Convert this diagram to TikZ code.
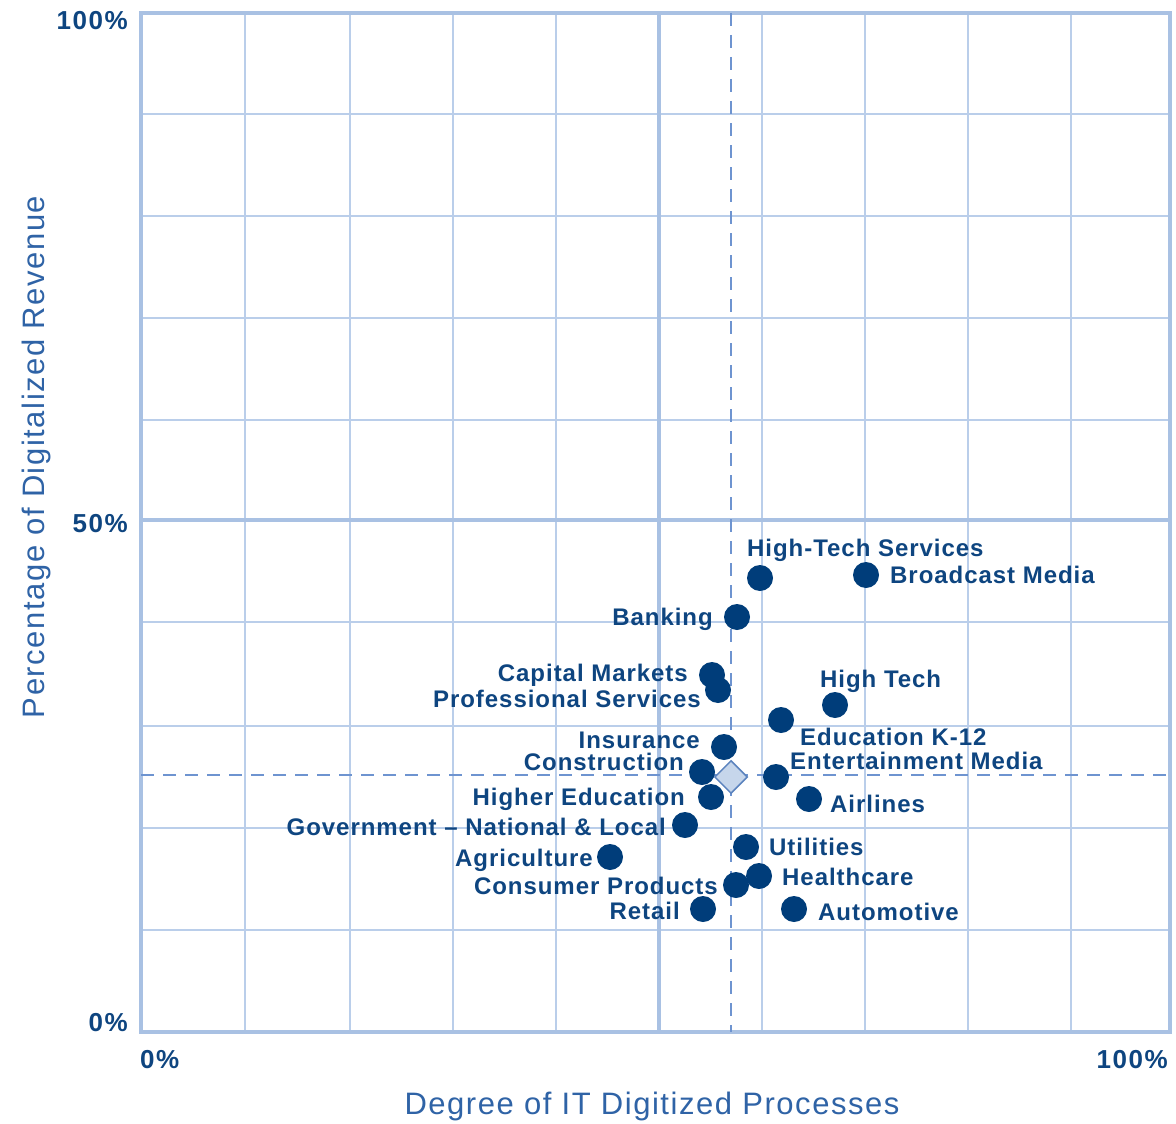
\documentclass[tikz,border=0pt]{standalone}
\usepackage{fontspec}
\setmainfont{Liberation Sans}
\newfontfamily\lblfont{Liberation Sans}[LetterSpace=4]
\newfontfamily\tickfont{Liberation Sans}[LetterSpace=6]
\newfontfamily\ttlfont{Liberation Sans}[LetterSpace=5]
\usetikzlibrary{shapes.geometric}
\definecolor{gridc}{HTML}{BACEEA}
\definecolor{framec}{HTML}{A9C1E3}
\definecolor{dashc}{HTML}{6E94D0}
\definecolor{dotc}{HTML}{003D7A}
\definecolor{txtc}{HTML}{0E4580}
\definecolor{ttlc}{HTML}{2F63A6}
\definecolor{diafill}{HTML}{C6D6EB}
\definecolor{diadraw}{HTML}{5B83BE}
\tikzset{
  dot/.style={circle,fill=dotc,minimum size=26pt,inner sep=0pt},
  lbl/.style={inner sep=0pt,text=txtc,font=\lblfont\bfseries\fontsize{24}{28}\selectfont},
  tick/.style={inner sep=0pt,text=txtc,font=\tickfont\bfseries\fontsize{26}{30}\selectfont},
  ttl/.style={inner sep=0pt,text=ttlc,font=\ttlfont\fontsize{31}{36}\selectfont},
  gridline/.style={draw=gridc,line width=2pt},
  majorline/.style={draw=framec,line width=3.5pt},
  refline/.style={draw=dashc,line width=2.5pt,dash pattern=on 13pt off 9pt}
}
\begin{document}
\begin{tikzpicture}[x=1pt,y=-1pt]
\useasboundingbox (0,0) rectangle (1176,1124);
% grid
\foreach \gx in {245,350,453,556,762,865,968,1071}
  \draw[gridline] (\gx,13) -- (\gx,1032);
\foreach \gy in {114,216,318,420,622,726,828,930}
  \draw[gridline] (141,\gy) -- (1170,\gy);
\draw[majorline] (659,13) -- (659,1032);
\draw[majorline] (141,520) -- (1170,520);
\draw[majorline] (141,13) rectangle (1170,1032);
% reference lines
\coordinate (vtop) at (731,13);
\coordinate (vbot) at (731,1032);
\coordinate (hl) at (141,775);
\coordinate (hr) at (1170,775);
\draw[refline] (vtop) -- (vbot);
\draw[refline] (hl) -- (hr);
% ticks
\node[tick,anchor=base east] (t100) at (128,30) {100\%};
\node[tick,anchor=base east] (t50) at (128,532) {50\%};
\node[tick,anchor=base east] (t0) at (128,1031) {0\%};
\node[tick,anchor=base west] (x0) at (140,1068) {0\%};
\node[tick,anchor=base east] (x100) at (1168,1068) {100\%};
% axis titles
\node[ttl,anchor=base] (xt) at (652,1114) {Degree of IT Digitized Processes};
\node[ttl,anchor=base,rotate=90] (yt) at (44,457) {Percentage of Digitalized Revenue};
% diamond
\node[diamond,fill=diafill,draw=diadraw,line width=1.5pt,minimum size=33pt,inner sep=0pt] (avg) at (731,777) {};
% dots
\node[dot] (hts) at (760,578) {};
\node[dot] (bm) at (866,575) {};
\node[dot] (bank) at (737,617) {};
\node[dot] (cm) at (712,675) {};
\node[dot] (ps) at (718,690) {};
\node[dot] (ht) at (835,705) {};
\node[dot] (ek) at (781,720) {};
\node[dot] (ins) at (724,747) {};
\node[dot] (con) at (702,772) {};
\node[dot] (em) at (776,777) {};
\node[dot] (he) at (711,797) {};
\node[dot] (air) at (809,799) {};
\node[dot] (gov) at (685,825) {};
\node[dot] (agr) at (610,857) {};
\node[dot] (uti) at (746,847) {};
\node[dot] (hc) at (759,876) {};
\node[dot] (cp) at (736,885) {};
\node[dot] (ret) at (703,909) {};
\node[dot] (aut) at (794,909) {};
% labels
\node[lbl,anchor=base west] (Lhts) at (747,556) {High-Tech Services};
\node[lbl,anchor=base west] (Lbm) at (890,583) {Broadcast Media};
\node[lbl,anchor=base east] (Lbank) at (713,625) {Banking};
\node[lbl,anchor=base east] (Lcm) at (688,681) {Capital Markets};
\node[lbl,anchor=base east] (Lps) at (701,707) {Professional Services};
\node[lbl,anchor=base west] (Lht) at (820,687) {High Tech};
\node[lbl,anchor=base west] (Lek) at (800,745) {Education K-12};
\node[lbl,anchor=base east] (Lins) at (700,748) {Insurance};
\node[lbl,anchor=base east] (Lcon) at (684,770) {Construction};
\node[lbl,anchor=base west] (Lem) at (790,769) {Entertainment Media};
\node[lbl,anchor=base east] (Lhe) at (685,805) {Higher Education};
\node[lbl,anchor=base west] (Lair) at (830,812) {Airlines};
\node[lbl,anchor=base east] (Lgov) at (666,835) {Government – National \& Local};
\node[lbl,anchor=base east] (Lagr) at (593,866) {Agriculture};
\node[lbl,anchor=base west] (Luti) at (769,855) {Utilities};
\node[lbl,anchor=base west] (Lhc) at (782,885) {Healthcare};
\node[lbl,anchor=base east] (Lcp) at (718,894) {Consumer Products};
\node[lbl,anchor=base east] (Lret) at (680,919) {Retail};
\node[lbl,anchor=base west] (Laut) at (818,920) {Automotive};
\end{tikzpicture}
\end{document}
